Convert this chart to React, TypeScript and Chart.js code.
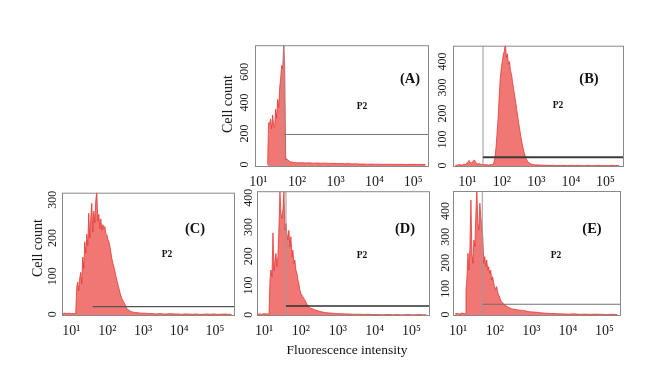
import React, { useEffect, useRef } from "react";
import { Chart, registerables } from "chart.js";

Chart.register(...registerables);

const SERIF = '"Liberation Serif", "DejaVu Serif", "Times New Roman", serif';

// Shared x axis (log10 of fluorescence intensity)
const X_TICK_VALUES = [1, 2, 3, 4, 5];
const X_TICK_LABELS = ["10¹", "10²", "10³", "10⁴", "10⁵"];

// ---------- Panel A ----------
const A_Y_TICKS = [0, 200, 400, 600];
const A_PEAK_START = 1.24;
const A_PEAK_STEP = 0.026;
const A_PEAK = [0, 270, 262, 293, 230, 320, 250, 240, 357, 300, 420, 370, 494, 557, 640, 620, 770, 650, 30];
const A_TAIL_START = 1.72;
const A_TAIL_STEP = 0.1;
const A_TAIL = [38, 18, 13, 11, 12, 10, 11, 9, 10, 8, 9, 7, 8, 6, 7, 5, 6, 4, 5, 3, 3, 2, 3, 2, 2, 1, 2, 1, 1, 1, 1, 0, 1, 1, 0, 1, 0];
const A_GATE_X = 1.664;
const A_GATE_Y = 194;

// ---------- Panel B ----------
const B_Y_TICKS = [0, 100, 200, 300, 400];
const B_PRE_START = 0.65;
const B_PRE_STEP = 0.05;
const B_PRE = [2, 1, 4, 3, 2, 6, 4, 12, 20, 8, 15, 22, 10, 6, 8, 4, 6, 3, 4, 2, 3, 4];
const B_PEAK_START = 1.74;
const B_PEAK_STEP = 0.03;
const B_PEAK = [5, 12, 30, 70, 125, 180, 260, 330, 370, 400, 425, 440, 470, 415, 430, 390, 400, 365, 350, 320, 295, 268, 245, 215, 190, 160, 138, 112, 90, 70, 52, 40, 28, 20, 14, 10, 8, 6, 5, 4, 3];
const B_TAIL_START = 3.0;
const B_TAIL_STEP = 0.1;
const B_TAIL = [3, 2, 2, 1, 1, 1, 0, 1, 1, 0, 1, 0, 1, 0, 0, 1, 0, 0, 1, 0, 0, 0, 1, 0, 0];
const B_GATE_X = 1.453;
const B_GATE_Y = 32;

// ---------- Panel C ----------
const C_Y_TICKS = [0, 100, 200, 300];
const C_PRE_START = 0.76;
const C_PRE_STEP = 0.06;
const C_PRE = [2, 3, 2, 3, 2, 2];
const C_PEAK_START = 1.12;
const C_PEAK_STEP = 0.028;
const C_PEAK = [2, 71, 85, 62, 95, 110, 80, 150, 120, 190, 160, 210, 180, 265, 200, 252, 291, 215, 270, 240, 300, 320, 244, 262, 225, 250, 220, 235, 225, 230, 212, 209, 196, 190, 178, 162, 145, 134, 124, 113, 100, 89, 78, 68, 57, 48, 41, 36, 31, 26, 20, 15, 12, 10, 9];
const C_TAIL_START = 2.66;
const C_TAIL_STEP = 0.1;
const C_TAIL = [7, 5, 4, 3, 3, 2, 2, 1, 2, 1, 1, 2, 1, 1, 0, 1, 1, 0, 1, 0, 0, 1, 0, 1, 0, 0, 1, 0, 0];
const C_GATE_X = 1.593;
const C_GATE_Y = 20;

// ---------- Panel D ----------
const D_Y_TICKS = [0, 100, 200, 300, 400];
const D_PRE_START = 0.82;
const D_PRE_STEP = 0.06;
const D_PRE = [2, 3, 2, 4, 3];
const D_PEAK_START = 1.135;
const D_PEAK_STEP = 0.027;
const D_PEAK = [3, 119, 153, 130, 280, 150, 187, 210, 165, 200, 300, 420, 346, 330, 358, 420, 290, 312, 278, 255, 289, 232, 267, 198, 221, 176, 187, 153, 142, 119, 108, 85, 73, 68, 62, 56, 51, 44, 37, 32, 27, 24];
const D_TAIL_START = 2.3;
const D_TAIL_STEP = 0.1;
const D_TAIL = [21, 16, 12, 9, 7, 6, 5, 4, 4, 3, 3, 2, 2, 2, 1, 2, 1, 1, 1, 0, 1, 1, 0, 1, 0, 0, 1, 0, 0, 1, 0, 0];
const D_GATE_X = 1.596;
const D_GATE_Y = 30;

// ---------- Panel E ----------
const E_Y_TICKS = [0, 100, 200, 300, 400];
const E_PRE_START = 0.92;
const E_PRE_STEP = 0.06;
const E_PRE = [3, 5, 2, 6, 4];
const E_PEAK_START = 1.188;
const E_PEAK_STEP = 0.027;
const E_PEAK = [3, 95, 146, 237, 172, 262, 442, 237, 198, 288, 262, 391, 480, 352, 327, 430, 378, 339, 301, 198, 224, 185, 211, 172, 185, 159, 172, 134, 146, 121, 108, 95, 108, 88, 76, 69, 56, 50];
const E_TAIL_START = 2.25;
const E_TAIL_STEP = 0.1;
const E_TAIL = [40, 30, 23, 20, 18, 16, 14, 11, 10, 9, 7, 6, 5, 4, 4, 3, 3, 2, 2, 3, 2, 1, 2, 1, 1, 2, 1, 1, 0, 1, 1, 0];
const E_GATE_X = 1.66;
const E_GATE_Y = 40;

type Seg = { start: number; step: number; counts: number[] };
type PanelCfg = {
  frame: { left: number; top: number; width: number; height: number };
  xMin: number;
  xMax: number;
  yMin: number;
  yMax: number;
  yTicks: number[];
  yTickPad: number;
  segs: Seg[];
  gateX: number;
  showVertical: boolean;
  gateY: number;
  gateColor: string;
  gateWidth: number;
};

const PANELS: PanelCfg[] = [
  {
    frame: { left: 255, top: 43, width: 174, height: 124 },
    xMin: 0.915, xMax: 5.41, yMin: -16, yMax: 771, yTicks: A_Y_TICKS, yTickPad: 1,
    segs: [
      { start: A_PEAK_START, step: A_PEAK_STEP, counts: A_PEAK },
      { start: A_TAIL_START, step: A_TAIL_STEP, counts: A_TAIL },
    ],
    gateX: A_GATE_X, showVertical: true, gateY: A_GATE_Y, gateColor: "#7a7a7a", gateWidth: 1,
  },
  {
    frame: { left: 453, top: 43, width: 171, height: 124 },
    xMin: 0.583, xMax: 5.54, yMin: -5.3, yMax: 461, yTicks: B_Y_TICKS, yTickPad: 1.5,
    segs: [
      { start: B_PRE_START, step: B_PRE_STEP, counts: B_PRE },
      { start: B_PEAK_START, step: B_PEAK_STEP, counts: B_PEAK },
      { start: B_TAIL_START, step: B_TAIL_STEP, counts: B_TAIL },
    ],
    gateX: B_GATE_X, showVertical: true, gateY: B_GATE_Y, gateColor: "#3c3c3c", gateWidth: 2,
  },
  {
    frame: { left: 62, top: 191, width: 173, height: 125 },
    xMin: 0.738, xMax: 5.557, yMin: -4.4, yMax: 318.6, yTicks: C_Y_TICKS, yTickPad: 0.5,
    segs: [
      { start: C_PRE_START, step: C_PRE_STEP, counts: C_PRE },
      { start: C_PEAK_START, step: C_PEAK_STEP, counts: C_PEAK },
      { start: C_TAIL_START, step: C_TAIL_STEP, counts: C_TAIL },
    ],
    gateX: C_GATE_X, showVertical: false, gateY: C_GATE_Y, gateColor: "#555555", gateWidth: 1.2,
  },
  {
    frame: { left: 257, top: 191, width: 173, height: 125 },
    xMin: 0.81, xMax: 5.5, yMin: -4.1, yMax: 422.5, yTicks: D_Y_TICKS, yTickPad: -1,
    segs: [
      { start: D_PRE_START, step: D_PRE_STEP, counts: D_PRE },
      { start: D_PEAK_START, step: D_PEAK_STEP, counts: D_PEAK },
      { start: D_TAIL_START, step: D_TAIL_STEP, counts: D_TAIL },
    ],
    gateX: D_GATE_X, showVertical: true, gateY: D_GATE_Y, gateColor: "#2f2f2f", gateWidth: 1.6,
  },
  {
    frame: { left: 453, top: 191, width: 168, height: 125 },
    xMin: 0.86, xMax: 5.45, yMin: -5.4, yMax: 477, yTicks: E_Y_TICKS, yTickPad: -2,
    segs: [
      { start: E_PRE_START, step: E_PRE_STEP, counts: E_PRE },
      { start: E_PEAK_START, step: E_PEAK_STEP, counts: E_PEAK },
      { start: E_TAIL_START, step: E_TAIL_STEP, counts: E_TAIL },
    ],
    gateX: E_GATE_X, showVertical: true, gateY: E_GATE_Y, gateColor: "#707070", gateWidth: 1.2,
  },
];

function toPoints(segs: Seg[]) {
  const pts: { x: number; y: number }[] = [];
  segs.forEach((s) =>
    s.counts.forEach((c, i) => pts.push({ x: +(s.start + i * s.step).toFixed(4), y: c }))
  );
  return pts;
}

const framePlugin = {
  id: "frame",
  afterDatasetsDraw(chart: any) {
    const { ctx, chartArea: a } = chart;
    ctx.save();
    ctx.strokeStyle = "#8c8888";
    ctx.lineWidth = 1;
    ctx.strokeRect(a.left + 0.5, a.top + 0.5, a.right - a.left - 1, a.bottom - a.top - 1);
    ctx.restore();
  },
};

const YW = 30;
const PT = 6;
const PR = 14;
const XH = 26;

function HistPanel({ p }: { p: PanelCfg }) {
  const ref = useRef<HTMLCanvasElement>(null);
  const w = YW + p.frame.width + PR;
  const h = PT + p.frame.height + XH;
  useEffect(() => {
    const datasets: any[] = [
      {
        data: toPoints(p.segs),
        fill: "start",
        borderColor: "rgba(226,52,48,0.95)",
        backgroundColor: "rgba(238,104,100,0.9)",
        borderWidth: 0.8,
        pointRadius: 0,
        tension: 0,
        order: 2,
      },
    ];
    if (p.showVertical) {
      datasets.push({
        data: [
          { x: p.gateX, y: p.yMin },
          { x: p.gateX, y: p.yMax },
        ],
        borderColor: "#9a9a9a",
        borderWidth: 1,
        pointRadius: 0,
        fill: false,
        order: 1,
      });
    }
    datasets.push({
      data: [
        { x: p.gateX, y: p.gateY },
        { x: p.xMax, y: p.gateY },
      ],
      borderColor: p.gateColor,
      borderWidth: p.gateWidth,
      pointRadius: 0,
      fill: false,
      order: 0,
    });
    const chart = new Chart(ref.current as HTMLCanvasElement, {
      type: "line",
      data: { datasets },
      options: {
        animation: false,
        responsive: false,
        maintainAspectRatio: false,
        events: [],
        layout: { padding: { top: PT, right: PR, left: 0, bottom: 0 } },
        plugins: {
          legend: { display: false },
          tooltip: { enabled: false },
          title: { display: false },
        },
        scales: {
          x: {
            type: "linear",
            min: p.xMin,
            max: p.xMax,
            afterBuildTicks: (s: any) => {
              s.ticks = X_TICK_VALUES.map((v) => ({ value: v }));
            },
            afterFit: (s: any) => {
              s.height = XH;
            },
            ticks: {
              callback: (v: any) => {
                const i = X_TICK_VALUES.indexOf(Number(v));
                return i >= 0 ? X_TICK_LABELS[i] : "";
              },
              autoSkip: false,
              maxRotation: 0,
              minRotation: 0,
              padding: 7,
              color: "#1a1a1a",
              font: { family: SERIF, size: 14 },
            },
            grid: { display: false, drawTicks: false },
            border: { display: false },
          },
          y: {
            type: "linear",
            min: p.yMin,
            max: p.yMax,
            afterBuildTicks: (s: any) => {
              s.ticks = p.yTicks.map((v) => ({ value: v }));
            },
            afterFit: (s: any) => {
              s.width = YW;
            },
            ticks: {
              minRotation: 90,
              maxRotation: 90,
              crossAlign: "center",
              padding: p.yTickPad,
              color: "#1a1a1a",
              font: { family: SERIF, size: 12 },
            },
            grid: { display: false, drawTicks: false },
            border: { display: false },
          },
        },
      } as any,
      plugins: [framePlugin],
    });
    return () => chart.destroy();
  }, []);
  return (
    <canvas
      ref={ref}
      width={w}
      height={h}
      style={{
        position: "absolute",
        left: p.frame.left - YW,
        top: p.frame.top - PT,
        width: w,
        height: h,
      }}
    />
  );
}

function Txt({
  x,
  y,
  text,
  size,
  bold,
  rotate,
}: {
  x: number;
  y: number;
  text: string;
  size: number;
  bold?: boolean;
  rotate?: boolean;
}) {
  return (
    <div
      style={{
        position: "absolute",
        left: x,
        top: y,
        transform: `translate(-50%, -50%)${rotate ? " rotate(-90deg)" : ""}`,
        fontFamily: SERIF,
        fontSize: size,
        fontWeight: bold ? 700 : 400,
        color: "#111",
        whiteSpace: "nowrap",
        lineHeight: 1,
      }}
    >
      {text}
    </div>
  );
}

export default function App() {
  return (
    <div
      style={{
        position: "fixed",
        left: 0,
        top: 0,
        width: 660,
        height: 389,
        background: "#ffffff",
        overflow: "hidden",
      }}
    >
      {PANELS.map((p, i) => (
        <HistPanel key={i} p={p} />
      ))}
      <Txt x={410} y={78} text="(A)" size={14.5} bold />
      <Txt x={362} y={107} text="P2" size={9.5} bold />
      <Txt x={589} y={78} text="(B)" size={14.5} bold />
      <Txt x={558} y={106} text="P2" size={9.5} bold />
      <Txt x={195} y={228} text="(C)" size={14.5} bold />
      <Txt x={167} y={255} text="P2" size={9.5} bold />
      <Txt x={405} y={228} text="(D)" size={14.5} bold />
      <Txt x={362} y={256} text="P2" size={9.5} bold />
      <Txt x={592} y={228} text="(E)" size={14.5} bold />
      <Txt x={556} y={256} text="P2" size={9.5} bold />
      <Txt x={228} y={104} text="Cell count" size={14} rotate />
      <Txt x={38} y={248} text="Cell count" size={14} rotate />
      <Txt x={347} y={350} text="Fluorescence intensity" size={13.5} />
    </div>
  );
}
